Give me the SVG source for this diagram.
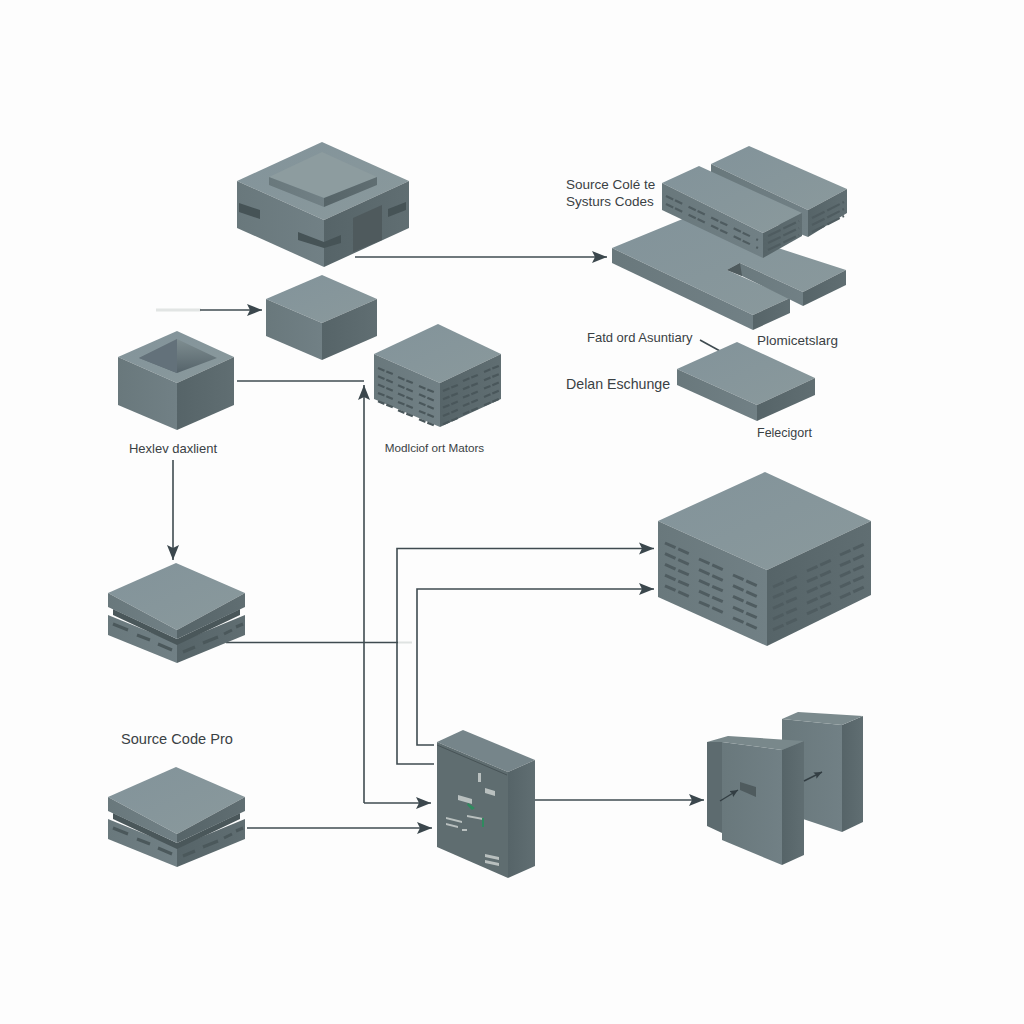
<svg xmlns="http://www.w3.org/2000/svg" width="1024" height="1024" viewBox="0 0 1024 1024">
<defs>
<style>
.t{fill:url(#gt)}
.l{fill:url(#gl)}
.r{fill:url(#gr)}
.d{fill:#4f5b5e}
.gap{fill:#4a575a}
.c{fill:none;stroke:#3f4b50;stroke-width:1.6}
.a{marker-end:url(#ah)}
.lb{font-family:"Liberation Sans",Arial,sans-serif;fill:#3a4144}
.v{stroke:#4f5c60;stroke-width:3;stroke-dasharray:11.5 3;fill:none}
.vs{stroke:#4a575b;stroke-width:2.2;stroke-dasharray:7 2;fill:none}
.vd{stroke:#4f5c60;stroke-width:2.2;stroke-dasharray:8 2 8 7;fill:none}
.vr{stroke:#4f5c60;stroke-width:2.2;stroke-dasharray:14 3;fill:none}
.vk{stroke:#4b585b;stroke-width:3;fill:none}
.sl{fill:#465356}
.w{fill:#b9c0bf}
.g{fill:#2f8a5e}
</style>
<linearGradient id="gt" x1="0" y1="0" x2="1" y2="1"><stop offset="0" stop-color="#82939a"/><stop offset="1" stop-color="#8a999c"/></linearGradient>
<linearGradient id="gl" x1="0" y1="0" x2="1" y2="0"><stop offset="0" stop-color="#69787c"/><stop offset="1" stop-color="#718085"/></linearGradient>
<linearGradient id="gr" x1="0" y1="0" x2="1" y2="0"><stop offset="0" stop-color="#566468"/><stop offset="1" stop-color="#606e72"/></linearGradient>
<linearGradient id="pit" x1="0" y1="0" x2="0" y2="1"><stop offset="0" stop-color="#7f8e91"/><stop offset="1" stop-color="#55636a"/></linearGradient>
<marker id="ah" markerUnits="userSpaceOnUse" markerWidth="16" markerHeight="14" refX="15" refY="6.5" orient="auto"><path d="M0 0.5L15 6.5L0 12.5L3 6.5Z" fill="#3b474d"/></marker>
<marker id="as" markerUnits="userSpaceOnUse" markerWidth="9" markerHeight="8" refX="8" refY="3.5" orient="auto"><path d="M0 0L8 3.5L0 7L1.5 3.5Z" fill="#333e43"/></marker>
<g id="ventL" class="v"><path d="M0 0l26 11.6"/><path d="M0 10.7l26 11.6"/><path d="M0 21.4l26 11.6"/><path d="M0 32.1l26 11.6"/><path d="M0 42.8l26 11.6"/></g>
<g id="ventR" class="v"><path d="M0 0l26-11.6"/><path d="M0 10.7l26-11.6"/><path d="M0 21.4l26-11.6"/><path d="M0 32.1l26-11.6"/><path d="M0 42.8l26-11.6"/></g>
<g id="vsL" class="vs"><path d="M0 0l16 6.6"/><path d="M0 8.3l16 6.6"/><path d="M0 16.6l16 6.6"/><path d="M0 24.9l16 6.6"/><path d="M0 33.2l16 6.6"/></g>
<g id="vsR" class="vs"><path d="M0 0l16-6.6"/><path d="M0 8.3l16-6.6"/><path d="M0 16.6l16-6.6"/><path d="M0 24.9l16-6.6"/><path d="M0 33.2l16-6.6"/></g>
</defs>
<rect width="1024" height="1024" fill="#fdfdfd"/>
<g id="connectors">
<path class="c a" d="M355 257H607"/>
<rect x="156" y="308.5" width="45" height="3" fill="#e2e5e4"/>
<path class="c a" d="M200 310H262"/>
<path class="c" d="M237 381H364"/>
<path class="c a" d="M364 803V385"/>
<path class="c a" d="M364 803H431"/>
<path class="c a" d="M173 460V560"/>
<path class="c" d="M226 642.5H398"/>
<rect x="398" y="641.5" width="14" height="2" fill="#dfe3e2"/>
<path class="c a" d="M434 764H397V548.5H654"/>
<path class="c a" d="M434 745H417V589H654"/>
<path class="c a" d="M247 828H432"/>
<path class="c a" d="M535 800H704"/>
<path class="c" d="M700 340L720 351"/>
</g>
<g id="node-gateway">
<path class="t" d="M322 142L409 181L324 220L237 181Z"/>
<path class="l" d="M237 181L324 220V267L237 228Z"/>
<path class="r" d="M324 220L409 181V228L324 267Z"/>
<path d="M322 152L377 177L324 198L269 177Z" fill="#8d9c9f"/>
<path class="l" d="M269 177L324 198V207L269 185Z"/>
<path class="r" d="M324 198L377 177V185L324 207Z"/>
<path class="sl" d="M239 203L260 210V219L239 212Z"/>
<path class="sl" d="M298 232L324 242L341 235V243L324 248L298 240Z"/>
<path class="sl" d="M388 209L406 202V210L388 217Z"/>
<path fill="#4f5a5d" d="M353 218L382 205V240L353 252Z"/>
</g>
<g id="node-cube">
<path class="t" d="M322 275L377 299L322 323L266 299Z"/>
<path class="l" d="M266 299L322 323V360L266 336Z"/>
<path class="r" d="M322 323L377 299V336L322 360Z"/>
</g>
<g id="node-client">
<path class="t" d="M177 331L234 357L177 383L118 357Z"/>
<path class="l" d="M118 357L177 383V430L118 405Z"/>
<path class="r" d="M177 383L234 357V405L177 430Z"/>
<path d="M177 339L217 358L177 373L139 358Z" fill="url(#pit)"/>
<path d="M177 339L139 358L177 373Z" fill="#63717a"/>
<text class="lb" x="173" y="453" font-size="13" text-anchor="middle">Hexlev daxlient</text>
</g>
<g id="node-modules">
<path class="t" d="M438 324L501 354L440 383L374 354Z"/>
<path class="l" d="M374 354L440 383V427L374 399Z"/>
<path class="r" d="M440 383L501 354V399L440 427Z"/>
<use href="#vsL" x="378" y="368"/>
<use href="#vsL" x="398" y="377"/>
<use href="#vsL" x="419" y="386"/>
<use href="#vsR" x="443" y="391"/>
<use href="#vsR" x="463" y="381"/>
<use href="#vsR" x="484" y="372"/>
<text class="lb" x="434.5" y="452" font-size="11.7" text-anchor="middle">Modlciof ort Mators</text>
</g>
<g id="node-slab">
<path class="t" d="M612 248L685 218L846 270L803 292L740 263L727 270L790 298L753 315Z"/>
<path class="l" d="M612 248L753 315V330L612 263Z"/>
<path class="r" d="M753 315L790 298V313L753 330Z"/>
<path class="l" d="M740 263L803 292V306L742 276L727 270Z"/>
<path class="d" d="M727 270L740 263L742 276Z"/>
<path class="r" d="M803 292L846 270V285L803 306Z"/>
<text class="lb" x="757" y="345" font-size="13.5">Plomicetslarg</text>
</g>
<g id="node-racks">
<path class="t" d="M749 146L847 189L808 210L711 164Z"/>
<path class="l" d="M711 164L808 210V237L790 230L711 190Z"/>
<path class="r" d="M808 210L847 189V213L808 237Z"/>
<path class="vr" d="M812 218L844 202M812 225L844 209M812 232L844 216"/>
<path class="t" d="M699 166L802 213L763 233L662 183Z"/>
<path class="l" d="M662 183L763 233V258L662 210Z"/>
<path class="r" d="M763 233L802 213V236L763 258Z"/>
<path class="vd" d="M666 196L758 240M666 204L758 248"/>
<path class="vr" d="M768 236L799 221M768 243L799 228M768 250L799 235"/>
<text class="lb" x="566" y="189" font-size="13.5">Source Colé te</text>
<text class="lb" x="566" y="206" font-size="13.5">Systurs Codes</text>
</g>
<g id="node-exchange">
<path class="t" d="M737 342L815 378L757 405L677 369Z"/>
<path class="l" d="M677 369L757 405V421L677 385Z"/>
<path class="r" d="M757 405L815 378V395L757 421Z"/>
<text class="lb" x="587" y="342" font-size="13">Fatd ord Asuntiary</text>
<text class="lb" x="566" y="389" font-size="14.2">Delan Eschunge</text>
<text class="lb" x="757" y="437" font-size="12.5">Felecigort</text>
</g>
<g id="node-server">
<path class="t" d="M765 472L871 521L767 570L658 521Z"/>
<path class="l" d="M658 521L767 570V646L658 597Z"/>
<path class="r" d="M767 570L871 521V595L767 646Z"/>
<use href="#ventL" x="665" y="543"/>
<use href="#ventL" x="699" y="559"/>
<use href="#ventL" x="733" y="575"/>
<use href="#ventR" x="773" y="587"/>
<use href="#ventR" x="807" y="571"/>
<use href="#ventR" x="840" y="555"/>
</g>
<g id="node-stack-a">
<path class="l" d="M108 615L177 643V663L108 635Z"/>
<path class="r" d="M177 643L245 615V635L177 663Z"/>
<path class="gap" d="M113 609L177 639L240 609V615L177 645L113 615Z"/>
<path class="t" d="M176 563L245 593L177 630L108 593Z"/>
<path class="l" d="M108 593L177 630V639L108 607Z"/>
<path class="r" d="M177 630L245 593V607L177 639Z"/>
<path class="vk" d="M113 624L128 630M137 635L150 640M158 644L172 650M183 652L195 647M203 643L218 637M224 634L232 630M236 627L243 624"/>
</g>
<g id="node-stack-b">
<path class="l" d="M108 819L177 847V867L108 839Z"/>
<path class="r" d="M177 847L245 819V839L177 867Z"/>
<path class="gap" d="M113 813L177 843L240 813V819L177 849L113 819Z"/>
<path class="t" d="M176 767L245 797L177 834L108 797Z"/>
<path class="l" d="M108 797L177 834V843L108 811Z"/>
<path class="r" d="M177 834L245 797V811L177 843Z"/>
<path class="vk" d="M113 828L128 834M137 839L150 844M158 848L172 854M183 856L195 851M203 847L218 841M224 838L232 834M236 831L243 828"/>
<text class="lb" x="121" y="744" font-size="14.6">Source Code Pro</text>
</g>
<g id="node-panel">
<path d="M463 730L535 760L508 772L437 742Z" fill="#76858a"/>
<path d="M437 742L508 772V878L437 847Z" fill="#5f6d70"/>
<path class="r" d="M508 772L535 760V866L508 878Z"/>
<path d="M437 745L507 775" fill="none" stroke="#475356" stroke-width="1"/>
<path d="M478 773h3v9h-3ZM485 788l10 3v5l-10-3ZM446 817l16 4v2l-16-4ZM446 823l12 3v2l-12-3ZM485 854l14 3v3l-14-3ZM485 860l14 3v3l-14-3Z" class="w"/>
<path d="M458 795l14 4v5l-14-4ZM467 815l16 3v2l-16-3ZM462 829h5v2h-5Z" class="w"/>
<path class="g" d="M468 803l7 5-3 2-5-5ZM482 818h2v9h-2Z"/>
</g>
<g id="node-twin">
<path class="r" d="M842 725L863 716V822L842 832Z"/>
<path class="l" d="M782 719L842 725V832L782 812Z"/>
<path d="M798 712L863 716L842 725L782 719Z" fill="#7b8a8d"/>
<path d="M707 742L722 742V833L707 826Z" fill="#5d6b6f"/>
<path class="l" d="M722 742L782 750V865L722 840Z"/>
<path class="r" d="M782 750L804 741V855L782 865Z"/>
<path d="M707 742L728 736L804 741L782 750L722 742Z" fill="#79888b"/>
<path class="d" d="M740 782L756 787V797L747 793L740 790Z"/>
<path d="M720 801L738 790" fill="none" stroke="#333e43" stroke-width="1.4" marker-end="url(#as)"/>
<path d="M804 781L822 772" fill="none" stroke="#333e43" stroke-width="1.4" marker-end="url(#as)"/>
</g>
</svg>
